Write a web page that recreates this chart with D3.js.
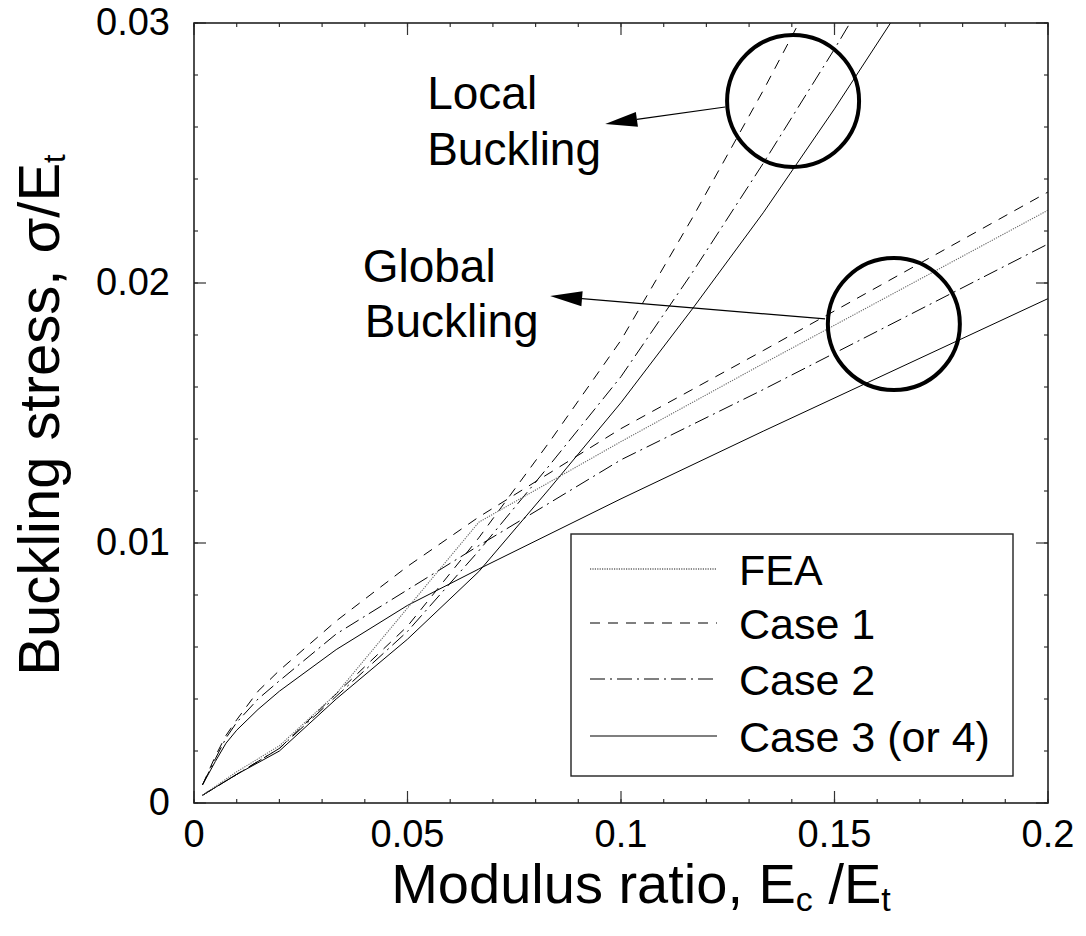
<!DOCTYPE html>
<html>
<head>
<meta charset="utf-8">
<script src="https://cdn.jsdelivr.net/npm/d3@7"></script>
<style>
  html, body { margin: 0; padding: 0; background: #fff; }
  svg { display: block; }
  text { font-family: "Liberation Sans", Arial, sans-serif; fill: #000; }
</style>
</head>
<body>
<svg id="chart" width="1086" height="936"></svg>
<script>
// ---------------- data ----------------
const globalX   = [0.002, 0.005, 0.0075, 0.01, 0.015, 0.02, 0.0333, 0.05, 0.0667, 0.1, 0.1333, 0.2];
const case1Global = [0.0007, 0.0018, 0.0026, 0.0032, 0.0043, 0.0051, 0.0070, 0.0091, 0.0110, 0.0144, 0.0174, 0.0235];
const case2Global = [0.0007, 0.0017, 0.0025, 0.0031, 0.0040, 0.0047, 0.0065, 0.0082, 0.0099, 0.0132, 0.0159, 0.0215];
const case3Global = [0.0007, 0.0016, 0.0023, 0.0028, 0.0036, 0.0043, 0.0059, 0.0076, 0.0090, 0.0117, 0.0143, 0.0194];

const feaX      = [0.002, 0.01, 0.02, 0.0333, 0.05, 0.0667, 0.1, 0.1333, 0.2];
const feaValues = [0.0003, 0.0012, 0.0022, 0.0042, 0.0075, 0.0108, 0.0139, 0.0169, 0.0228];

const localX     = [0.002, 0.01, 0.02, 0.0333, 0.05, 0.0667, 0.0833, 0.1, 0.1167, 0.1333, 0.15, 0.1667];
const case1Local = [0.0003, 0.0011, 0.0021, 0.0042, 0.0068, 0.0102, 0.0139, 0.0178, 0.0225, 0.0274, 0.0326, 0.0380];
const case2Local = [0.0003, 0.0011, 0.0021, 0.0041, 0.0066, 0.0097, 0.0130, 0.0164, 0.0204, 0.0246, 0.0290, 0.0336];
const case3Local = [0.0003, 0.0011, 0.0020, 0.0040, 0.0063, 0.0089, 0.0121, 0.0154, 0.0190, 0.0227, 0.0267, 0.0309];

const xTicks = [0, 0.05, 0.1, 0.15, 0.2];
const xTickLabels = ["0", "0.05", "0.1", "0.15", "0.2"];
const yTicks = [0, 0.01, 0.02, 0.03];
const yTickLabels = ["0", "0.01", "0.02", "0.03"];
const legendLabels = ["FEA", "Case 1", "Case 2", "Case 3 (or 4)"];

// annotations (data coordinates)
const annoCircles = [[0.1403, 0.0270], [0.1639, 0.01842]];
const annoArrows = [
  [[0.1244, 0.02677], [0.0963, 0.02612]],
  [[0.1478, 0.01862], [0.0834, 0.0195]]
];
const annoTexts = [
  ["Local", 0.0546, 0.02669], ["Buckling", 0.0546, 0.02454],
  ["Global", 0.0395, 0.02004], ["Buckling", 0.0400, 0.01792]
];

// ---------------- layout ----------------
const L = 194, R = 1048, T = 23, B = 803;
const svg = d3.select("#chart");
const x = d3.scaleLinear().domain([0, 0.2]).range([L, R]);
const y = d3.scaleLinear().domain([0, 0.03]).range([B, T]);

const styles = {
  fea:   { stroke: "#666", width: 1.1, dash: "1.2,1.2" },
  case1: { stroke: "#000", width: 1,   dash: "10,8" },
  case2: { stroke: "#000", width: 1,   dash: "15,5,2,5" },
  case3: { stroke: "#000", width: 1,   dash: null }
};

svg.append("defs").append("clipPath").attr("id", "plotclip")
  .append("rect").attr("x", L).attr("y", T).attr("width", R - L).attr("height", B - T);

const line = d3.line().x(d => x(d[0])).y(d => y(d[1]));
const plot = svg.append("g").attr("clip-path", "url(#plotclip)");

function drawSeries(xs, ys, st) {
  const p = plot.append("path")
    .datum(xs.map((v, i) => [v, ys[i]]))
    .attr("d", line)
    .attr("fill", "none")
    .attr("stroke", st.stroke)
    .attr("stroke-width", st.width);
  if (st.dash) p.attr("stroke-dasharray", st.dash);
}
drawSeries(globalX, case3Global, styles.case3);
drawSeries(localX, case3Local, styles.case3);
drawSeries(globalX, case2Global, styles.case2);
drawSeries(localX, case2Local, styles.case2);
drawSeries(globalX, case1Global, styles.case1);
drawSeries(localX, case1Local, styles.case1);
drawSeries(feaX, feaValues, styles.fea);

// ---------------- axes / frame ----------------
const axisG = svg.append("g");
const majLen = 12, minLen = 4;
const xMinor = d3.range(0, 0.2001, 0.01);
const yMinor = d3.range(0, 0.0301, 0.002);

function tickLines(vals, len, horizontal) {
  vals.forEach(v => {
    if (horizontal) {
      const px = x(v);
      axisG.append("line").attr("x1", px).attr("x2", px).attr("y1", B).attr("y2", B - len);
      axisG.append("line").attr("x1", px).attr("x2", px).attr("y1", T).attr("y2", T + len);
    } else {
      const py = y(v);
      axisG.append("line").attr("x1", L).attr("x2", L + len).attr("y1", py).attr("y2", py);
      axisG.append("line").attr("x1", R).attr("x2", R - len).attr("y1", py).attr("y2", py);
    }
  });
}
tickLines(xMinor, minLen, true);
tickLines(yMinor, minLen, false);
tickLines(xTicks, majLen, true);
tickLines(yTicks, majLen, false);
axisG.selectAll("line").attr("stroke", "#333").attr("stroke-width", 1.2);

svg.append("rect").attr("x", L).attr("y", T).attr("width", R - L).attr("height", B - T)
  .attr("fill", "none").attr("stroke", "#222").attr("stroke-width", 1.6);

// tick labels
xTicks.forEach((v, i) => {
  svg.append("text").attr("x", x(v)).attr("y", 847)
    .attr("text-anchor", "middle").attr("font-size", 38).text(xTickLabels[i]);
});
yTicks.forEach((v, i) => {
  svg.append("text").attr("x", 170).attr("y", y(v) + 12)
    .attr("text-anchor", "end").attr("font-size", 38).text(yTickLabels[i]);
});

// axis titles
const xt = svg.append("text").attr("x", (L + R) / 2 + 20).attr("y", 903)
  .attr("text-anchor", "middle").attr("font-size", 56);
xt.append("tspan").text("Modulus ratio, E");
xt.append("tspan").attr("font-size", 34).attr("dy", 8).text("c");
xt.append("tspan").attr("dy", -8).text(" /E");
xt.append("tspan").attr("font-size", 34).attr("dy", 8).text("t");

const yt = svg.append("text")
  .attr("transform", `translate(59, ${(T + B) / 2 + 2}) rotate(-90)`)
  .attr("text-anchor", "middle").attr("font-size", 58);
yt.append("tspan").text("Buckling stress, σ/E");
yt.append("tspan").attr("font-size", 31).attr("dy", 6).text("t");

// ---------------- annotations ----------------
const anno = svg.append("g");
annoCircles.forEach(c => {
  anno.append("circle").attr("cx", x(c[0])).attr("cy", y(c[1])).attr("r", 66)
    .attr("fill", "none").attr("stroke", "#000").attr("stroke-width", 4);
});
annoArrows.forEach(a => {
  const x1 = x(a[0][0]), y1 = y(a[0][1]), x2 = x(a[1][0]), y2 = y(a[1][1]);
  const ang = Math.atan2(y2 - y1, x2 - x1);
  const hl = 32, hw = 7.5;
  const bx = x2 - hl * Math.cos(ang), by = y2 - hl * Math.sin(ang);
  anno.append("line").attr("x1", x1).attr("y1", y1).attr("x2", bx).attr("y2", by)
    .attr("stroke", "#000").attr("stroke-width", 1.2);
  const px = -Math.sin(ang), py = Math.cos(ang);
  anno.append("path")
    .attr("d", `M${x2},${y2}L${bx + px * hw},${by + py * hw}L${bx - px * hw},${by - py * hw}Z`)
    .attr("fill", "#000");
});
annoTexts.forEach(t => {
  anno.append("text").attr("x", x(t[1])).attr("y", y(t[2])).attr("font-size", 46).text(t[0]);
});

// ---------------- legend ----------------
const lg = svg.append("g");
lg.append("rect").attr("x", 571).attr("y", 534).attr("width", 442).attr("height", 242)
  .attr("fill", "#fff").attr("stroke", "#222").attr("stroke-width", 1.4);
const legendStyles = [styles.fea, styles.case1, styles.case2, styles.case3];
const rowY = [569, 623, 679, 736];
legendLabels.forEach((lab, i) => {
  const st = legendStyles[i];
  const l = lg.append("line").attr("x1", 590).attr("x2", 717).attr("y1", rowY[i]).attr("y2", rowY[i])
    .attr("stroke", st.stroke).attr("stroke-width", i === 0 ? 1.6 : 1.2);
  if (st.dash) l.attr("stroke-dasharray", st.dash);
  lg.append("text").attr("x", 739).attr("y", rowY[i] + 16).attr("font-size", 43).text(lab);
});
</script>
</body>
</html>
